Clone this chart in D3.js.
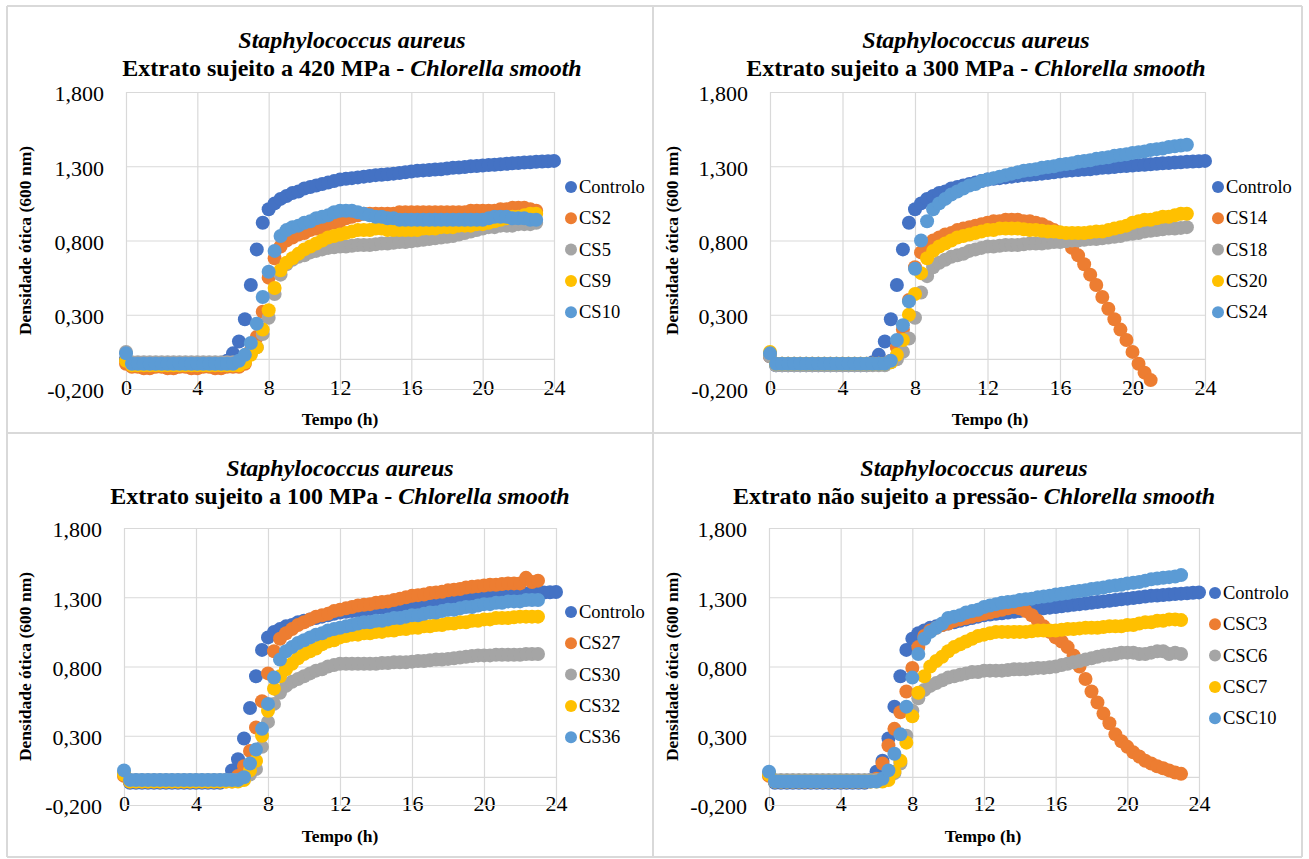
<!DOCTYPE html>
<meta charset="utf-8">
<style>
body { margin: 0; background: #fff; }
svg text { font-family: "Liberation Serif", "Times New Roman", serif; fill: #000; }
.grid line { stroke: #d9d9d9; stroke-width: 1.2; }
.grid path { display: none; }
.tick text { font-size: 22px; }
.axtitle { font-size: 17.5px; font-weight: bold; }
.title { font-size: 24px; font-weight: bold; }
.legend text { font-size: 18.5px; }
</style>
<body>
<svg width="1309" height="859"></svg>
<script src="https://d3js.org/d3.v7.min.js"></script>
<script>
// readings every 20 min (1/3 h)
var step = 1 / 3;
var xTicks = [0, 4, 8, 12, 16, 20, 24];
var yTicks = [-0.2, 0.3, 0.8, 1.3, 1.8];
var yTickLabels = ["-0,200", "0,300", "0,800", "1,300", "1,800"];
var colors = ["#4472C4", "#ED7D31", "#A5A5A5", "#FFC000", "#5B9BD5"];

var titleSpecies = "Staphylococcus aureus";
var titleAlga = "Chlorella smooth";
var subtitles = ["Extrato sujeito a 420 MPa - ", "Extrato sujeito a 300 MPa - ",
                 "Extrato sujeito a 100 MPa - ", "Extrato não sujeito a pressão- "];

var names420 = ["Controlo", "CS2", "CS5", "CS9", "CS10"];
var names300 = ["Controlo", "CS14", "CS18", "CS20", "CS24"];
var names100 = ["Controlo", "CS27", "CS30", "CS32", "CS36"];
var names0   = ["Controlo", "CSC3", "CSC6", "CSC7", "CSC10"];

// ---- 420 MPa
var ctl420 = [0.00,-0.03,-0.03,-0.03,-0.03,-0.03,-0.03,-0.03,-0.03,-0.03,-0.03,-0.03,-0.03,-0.03,-0.03,-0.03,-0.03,
  -0.01,0.04,0.12,0.27,0.50,0.74,0.92,1.01,
  1.05,1.08,1.10,1.12,1.13,1.15,1.16,1.17,1.18,1.19,1.20,1.21,
  1.215,1.22,1.225,1.23,1.235,1.24,1.243,1.246,1.25,1.255,1.26,1.265,
  1.27,1.272,1.275,1.278,1.28,1.285,1.29,1.292,1.295,1.30,1.302,1.305,
  1.308,1.31,1.313,1.316,1.32,1.322,1.325,1.327,1.33,1.332,1.334,1.336];
var cs2_420 = [-0.03,
  -0.05,-0.05,-0.06,-0.06,-0.05,-0.05,-0.06,-0.06,-0.05,-0.05,-0.06,-0.06,-0.05,-0.05,-0.06,-0.06,-0.05,-0.05,-0.05,
  -0.03,0.06,0.15,0.32,0.55,0.68,0.76,
  0.80,0.82,0.84,0.85,0.87,0.88,0.89,0.91,0.92,0.93,
  0.95,0.96,0.97,0.98,0.98,0.98,0.98,0.98,0.98,0.99,0.99,0.99,
  0.99,0.99,0.99,0.99,0.99,0.99,0.99,0.99,0.99,1.00,1.00,1.00,
  1.00,1.00,1.01,1.01,1.02,1.02,1.02,1.01,1.00];
var cs5_420 = [0.05,
  -0.02,-0.02,-0.02,-0.02,-0.02,-0.02,-0.02,-0.02,-0.02,-0.02,-0.02,-0.02,-0.02,-0.02,-0.02,-0.02,-0.02,-0.02,-0.02,
  0.00,0.04,0.08,0.17,0.28,0.44,0.57,
  0.64,0.67,0.69,0.70,0.72,0.73,0.74,0.75,0.755,0.76,
  0.76,0.765,0.77,0.77,0.77,0.775,0.78,0.78,0.785,0.79,0.79,0.795,
  0.80,0.805,0.81,0.815,0.82,0.825,0.83,0.84,0.85,0.86,0.87,0.88,
  0.89,0.89,0.90,0.90,0.90,0.91,0.91,0.91,0.92];
var cs9_420 = [-0.01,
  -0.04,-0.04,-0.04,-0.04,-0.04,-0.04,-0.04,-0.04,-0.04,-0.04,-0.04,-0.04,-0.04,-0.04,-0.04,-0.04,-0.04,-0.04,-0.04,
  -0.02,0.03,0.08,0.20,0.33,0.48,0.60,
  0.65,0.68,0.71,0.74,0.76,0.78,0.80,0.82,0.83,0.84,
  0.85,0.86,0.87,0.87,0.87,0.88,0.88,0.87,0.87,0.87,0.87,0.87,
  0.87,0.88,0.88,0.88,0.89,0.89,0.89,0.90,0.90,0.90,0.91,0.91,
  0.92,0.93,0.94,0.95,0.96,0.96,0.97,0.98,0.98];
var cs10_420 = [0.04,
  -0.03,-0.03,-0.03,-0.03,-0.03,-0.03,-0.03,-0.03,-0.03,-0.03,-0.03,-0.03,-0.03,-0.03,-0.03,-0.03,-0.03,-0.03,
  -0.01,0.03,0.11,0.24,0.42,0.59,0.73,0.83,
  0.87,0.89,0.90,0.92,0.93,0.95,0.96,0.97,0.99,1.00,
  1.00,1.00,0.99,0.98,0.97,0.96,0.96,0.95,0.95,0.94,0.94,0.94,
  0.94,0.94,0.94,0.94,0.94,0.94,0.94,0.94,0.94,0.94,0.94,0.94,
  0.95,0.96,0.96,0.96,0.95,0.95,0.95,0.94,0.94];

// ---- 300 MPa
var ctl300 = [0.02,-0.04,-0.04,-0.04,-0.04,-0.04,-0.04,-0.04,-0.04,-0.04,-0.04,-0.04,-0.04,-0.04,-0.04,-0.04,-0.04,
  -0.02,0.03,0.12,0.27,0.50,0.74,0.92,1.01,
  1.05,1.08,1.10,1.12,1.13,1.15,1.16,1.17,1.18,1.19,1.20,1.21,
  1.215,1.22,1.225,1.23,1.235,1.24,1.243,1.246,1.25,1.255,1.26,1.265,
  1.27,1.272,1.275,1.278,1.28,1.285,1.29,1.292,1.295,1.30,1.302,1.305,
  1.308,1.31,1.313,1.316,1.32,1.322,1.325,1.327,1.33,1.332,1.334,1.336];
var cs14_300 = [0.02,
  -0.03,-0.03,-0.03,-0.03,-0.03,-0.03,-0.03,-0.03,-0.03,-0.03,-0.03,-0.03,-0.03,-0.03,-0.03,-0.03,-0.03,-0.03,-0.03,
  -0.01,0.08,0.20,0.40,0.62,0.72,0.77,
  0.80,0.82,0.84,0.85,0.87,0.88,0.89,0.90,0.91,0.92,
  0.93,0.93,0.94,0.94,0.94,0.93,0.93,0.92,0.91,
  0.89,0.87,0.84,0.80,0.75,0.70,0.64,0.57,0.50,0.42,0.34,0.27,0.20,0.13,0.05,-0.03,-0.09,-0.14];
var cs18_300 = [0.02,
  -0.04,-0.04,-0.04,-0.04,-0.04,-0.04,-0.04,-0.04,-0.04,-0.04,-0.04,-0.04,-0.04,-0.04,-0.04,-0.04,-0.04,-0.04,-0.04,
  -0.02,0.00,0.05,0.14,0.28,0.45,0.56,
  0.62,0.65,0.67,0.69,0.70,0.71,0.73,0.74,0.75,0.76,
  0.76,0.765,0.77,0.77,0.77,0.775,0.78,0.78,0.78,0.785,0.79,0.79,
  0.795,0.80,0.80,0.805,0.81,0.81,0.815,0.82,0.825,0.83,0.84,0.845,
  0.85,0.86,0.865,0.87,0.875,0.88,0.88,0.885,0.89];
var cs20_300 = [0.05,
  -0.03,-0.03,-0.03,-0.03,-0.03,-0.03,-0.03,-0.03,-0.03,-0.03,-0.03,-0.03,-0.03,-0.03,-0.03,-0.03,-0.03,-0.03,-0.03,
  -0.02,0.03,0.13,0.30,0.44,0.58,0.68,
  0.73,0.76,0.78,0.80,0.82,0.83,0.84,0.85,0.86,0.87,
  0.87,0.88,0.88,0.88,0.88,0.875,0.87,0.87,0.865,0.86,0.86,0.855,
  0.85,0.85,0.85,0.85,0.855,0.86,0.86,0.87,0.88,0.89,0.90,0.92,
  0.93,0.94,0.94,0.95,0.96,0.96,0.97,0.98,0.98];
var cs24_300 = [0.04,
  -0.03,-0.03,-0.03,-0.03,-0.03,-0.03,-0.03,-0.03,-0.03,-0.03,-0.03,-0.03,-0.03,-0.03,-0.03,-0.03,-0.03,-0.03,-0.03,
  -0.01,0.13,0.23,0.39,0.61,0.80,0.93,1.01,
  1.05,1.08,1.11,1.13,1.15,1.17,1.18,1.20,1.21,
  1.22,1.23,1.24,1.25,1.26,1.27,1.275,1.28,1.29,1.295,1.30,1.31,
  1.315,1.32,1.33,1.335,1.34,1.35,1.355,1.36,1.37,1.375,1.38,1.39,
  1.395,1.40,1.41,1.415,1.42,1.43,1.435,1.44,1.445];

// ---- 100 MPa
var ctl100 = [0.02,-0.04,-0.04,-0.04,-0.04,-0.04,-0.04,-0.04,-0.04,-0.04,-0.04,-0.04,-0.04,-0.04,-0.04,-0.04,-0.04,
  -0.02,0.05,0.13,0.28,0.50,0.73,0.92,1.01,
  1.05,1.07,1.09,1.10,1.12,1.13,1.14,1.15,1.16,1.17,1.18,1.19,
  1.195,1.20,1.205,1.21,1.215,1.22,1.225,1.23,1.235,1.24,1.245,1.25,
  1.255,1.26,1.265,1.27,1.275,1.28,1.285,1.29,1.295,1.30,1.303,1.306,
  1.31,1.313,1.316,1.32,1.322,1.325,1.327,1.33,1.332,1.334,1.336,1.338];
var cs27_100 = [0.01,
  -0.03,-0.03,-0.03,-0.03,-0.03,-0.03,-0.03,-0.03,-0.03,-0.03,-0.03,-0.03,-0.03,-0.03,-0.03,-0.03,-0.03,-0.03,
  0.01,0.08,0.19,0.36,0.55,0.75,0.91,1.00,1.04,
  1.07,1.10,1.12,1.14,1.16,1.17,1.18,1.20,1.21,
  1.22,1.23,1.24,1.245,1.25,1.26,1.265,1.27,1.28,1.29,1.30,1.31,
  1.315,1.32,1.33,1.335,1.34,1.35,1.355,1.36,1.37,1.375,1.38,1.385,
  1.39,1.39,1.395,1.40,1.40,1.40,1.44,1.41,1.42];
var cs30_100 = [0.03,
  -0.02,-0.02,-0.02,-0.02,-0.02,-0.02,-0.02,-0.02,-0.02,-0.02,-0.02,-0.02,-0.02,-0.02,-0.02,-0.02,-0.02,-0.02,-0.02,
  -0.01,0.02,0.06,0.22,0.40,0.53,0.61,0.66,
  0.69,0.71,0.73,0.75,0.77,0.78,0.80,0.81,0.82,
  0.82,0.82,0.82,0.82,0.82,0.82,0.825,0.825,0.83,0.83,0.83,0.835,
  0.84,0.84,0.845,0.85,0.85,0.855,0.86,0.865,0.87,0.875,0.88,0.88,
  0.88,0.885,0.885,0.885,0.885,0.885,0.89,0.89,0.89];
var cs32_100 = [0.02,
  -0.03,-0.03,-0.03,-0.03,-0.03,-0.03,-0.03,-0.03,-0.03,-0.03,-0.03,-0.03,-0.03,-0.03,-0.03,-0.03,-0.03,-0.03,-0.03,
  -0.02,0.05,0.12,0.30,0.48,0.64,0.73,0.78,
  0.82,0.86,0.89,0.91,0.93,0.96,0.98,0.99,1.01,
  1.02,1.03,1.03,1.04,1.04,1.05,1.05,1.06,1.06,1.07,1.07,1.08,
  1.08,1.09,1.09,1.10,1.10,1.11,1.11,1.12,1.12,1.13,1.13,1.14,
  1.14,1.15,1.15,1.15,1.155,1.16,1.16,1.16,1.16];
var cs36_100 = [0.05,
  -0.02,-0.02,-0.02,-0.02,-0.02,-0.02,-0.02,-0.02,-0.02,-0.02,-0.02,-0.02,-0.02,-0.02,-0.02,-0.02,-0.02,-0.02,-0.02,
  0.00,0.10,0.20,0.35,0.53,0.72,0.85,0.91,
  0.94,0.97,0.99,1.01,1.03,1.04,1.06,1.07,1.08,
  1.09,1.10,1.11,1.12,1.12,1.13,1.13,1.14,1.15,1.15,1.16,1.17,
  1.17,1.18,1.19,1.19,1.20,1.21,1.21,1.22,1.23,1.23,1.24,1.25,
  1.25,1.26,1.26,1.27,1.27,1.27,1.28,1.28,1.28];

// ---- sem pressão
var ctl0 = [0.02,-0.04,-0.04,-0.04,-0.04,-0.04,-0.04,-0.04,-0.04,-0.04,-0.04,-0.04,-0.04,-0.04,-0.04,-0.04,-0.04,
  -0.02,0.04,0.12,0.28,0.51,0.73,0.92,1.00,
  1.04,1.06,1.08,1.09,1.10,1.11,1.12,1.13,1.14,1.15,1.16,1.17,
  1.175,1.18,1.185,1.19,1.195,1.20,1.205,1.21,1.215,1.22,1.225,1.23,
  1.235,1.24,1.245,1.25,1.255,1.26,1.265,1.27,1.275,1.28,1.285,1.29,
  1.295,1.30,1.305,1.31,1.313,1.316,1.32,1.323,1.326,1.329,1.332,1.335];
var csc3_0 = [0.01,
  -0.03,-0.03,-0.03,-0.03,-0.03,-0.03,-0.03,-0.03,-0.03,-0.03,-0.03,-0.03,-0.03,-0.03,-0.03,-0.03,-0.03,
  -0.01,0.10,0.23,
  0.35,0.47,0.62,0.79,0.94,1.02,1.06,
  1.08,1.10,1.11,1.13,1.14,1.15,1.16,1.17,1.18,
  1.19,1.20,1.21,1.22,1.23,1.22,1.20,1.17,1.13,1.09,1.05,1.01,
  0.98,0.94,0.88,0.80,0.71,0.62,0.54,0.46,0.39,0.31,0.26,0.22,
  0.18,0.15,0.12,0.10,0.08,0.065,0.05,0.035,0.025];
var csc6_0 = [0.03,
  -0.02,-0.02,-0.02,-0.02,-0.02,-0.02,-0.02,-0.02,-0.02,-0.02,-0.02,-0.02,-0.02,-0.02,-0.02,-0.02,-0.02,-0.02,-0.02,
  0.00,0.03,0.10,0.30,0.48,0.57,0.63,0.66,
  0.68,0.70,0.72,0.73,0.74,0.75,0.76,0.76,0.77,
  0.77,0.77,0.77,0.775,0.78,0.78,0.78,0.785,0.79,0.79,0.795,0.80,
  0.81,0.82,0.83,0.84,0.85,0.86,0.87,0.88,0.885,0.89,0.90,0.90,
  0.90,0.89,0.89,0.90,0.91,0.91,0.89,0.90,0.89];
var csc7_0 = [0.02,
  -0.03,-0.03,-0.03,-0.03,-0.03,-0.03,-0.03,-0.03,-0.03,-0.03,-0.03,-0.03,-0.03,-0.03,-0.03,-0.03,-0.03,-0.03,-0.03,
  -0.02,0.04,0.12,0.25,0.44,0.61,0.73,0.80,
  0.84,0.87,0.91,0.94,0.96,0.98,1.00,1.02,1.03,
  1.04,1.05,1.05,1.05,1.05,1.05,1.05,1.055,1.06,1.06,1.06,1.06,
  1.065,1.07,1.07,1.075,1.08,1.08,1.08,1.085,1.09,1.09,1.09,1.10,
  1.10,1.11,1.12,1.12,1.13,1.13,1.14,1.14,1.135];
var csc10_0 = [0.04,
  -0.03,-0.03,-0.03,-0.03,-0.03,-0.03,-0.03,-0.03,-0.03,-0.03,-0.03,-0.03,-0.03,-0.03,-0.03,-0.03,-0.03,-0.03,
  -0.01,0.05,0.17,0.31,0.51,0.72,0.89,1.00,1.05,
  1.08,1.11,1.15,1.16,1.17,1.19,1.20,1.21,1.23,
  1.24,1.25,1.26,1.265,1.27,1.28,1.285,1.29,1.30,1.305,1.31,1.32,
  1.325,1.33,1.34,1.345,1.35,1.36,1.365,1.37,1.38,1.385,1.39,1.40,
  1.405,1.41,1.42,1.43,1.435,1.44,1.445,1.45,1.46];

var panels = [
  {sub: subtitles[0], names: names420, series: [ctl420, cs2_420, cs5_420, cs9_420, cs10_420],
   left: 126, right: 554, top: 92, bottom: 389, tx: 352, ty: 48, ytx: 25, xtx: 340, xty: 425, lx: 571, ly: 187},
  {sub: subtitles[1], names: names300, series: [ctl300, cs14_300, cs18_300, cs20_300, cs24_300],
   left: 770, right: 1205, top: 92, bottom: 389, tx: 976, ty: 48, ytx: 672, xtx: 990, xty: 425, lx: 1218, ly: 187},
  {sub: subtitles[2], names: names100, series: [ctl100, cs27_100, cs30_100, cs32_100, cs36_100],
   left: 124, right: 556, top: 528, bottom: 805, tx: 340, ty: 476, ytx: 25, xtx: 340, xty: 842, lx: 571, ly: 612},
  {sub: subtitles[3], names: names0, series: [ctl0, csc3_0, csc6_0, csc7_0, csc10_0],
   left: 769, right: 1199, top: 528, bottom: 805, tx: 974, ty: 476, ytx: 672, xtx: 983, xty: 842, lx: 1215, ly: 593}
];

var svg = d3.select("svg");

// table cell borders
var bx = [7, 653, 1302], by = [6, 433, 857];
bx.forEach(function(x) {
  svg.append("line").attr("x1", x).attr("x2", x).attr("y1", by[0]).attr("y2", by[2])
    .attr("stroke", "#d9d9d9").attr("stroke-width", 2);
});
by.forEach(function(y) {
  svg.append("line").attr("x1", bx[0]).attr("x2", bx[2]).attr("y1", y).attr("y2", y)
    .attr("stroke", "#d9d9d9").attr("stroke-width", 2);
});

panels.forEach(function(p) {
  var x = d3.scaleLinear().domain([0, 24]).range([p.left, p.right]),
      y = d3.scaleLinear().domain([-0.2, 1.8]).range([p.bottom, p.top]);
  var g = svg.append("g");

  // titles
  var t = g.append("text").attr("class", "title").attr("text-anchor", "middle")
    .attr("x", p.tx).attr("y", p.ty);
  t.append("tspan").attr("font-style", "italic").text(titleSpecies);
  var t2 = g.append("text").attr("class", "title").attr("text-anchor", "middle")
    .attr("x", p.tx).attr("y", p.ty + 28);
  t2.append("tspan").text(p.sub);
  t2.append("tspan").attr("font-style", "italic").text(titleAlga);

  g.append("g").attr("class", "grid")
      .attr("transform", "translate(0," + p.bottom + ")")
      .call(d3.axisBottom(x).tickValues(xTicks).tickSize(-(p.bottom - p.top)).tickPadding(6))
    .selectAll("text").attr("y", 6).attr("dy", 0);

  g.append("g").attr("class", "grid")
      .attr("transform", "translate(" + p.left + ",0)")
      .call(d3.axisLeft(y).tickValues(yTicks).tickSize(-(p.right - p.left)).tickPadding(22)
        .tickFormat(function(d, i) { return yTickLabels[i]; }))
    .selectAll("text").attr("dy", "0.4em");

  // horizontal axis crosses at 0
  g.append("line").attr("x1", p.left).attr("x2", p.right)
    .attr("y1", y(0)).attr("y2", y(0)).attr("stroke", "#d9d9d9").attr("stroke-width", 1.2);

  g.append("text").attr("class", "axtitle").attr("text-anchor", "middle")
    .attr("transform", "translate(" + (p.ytx + 6) + "," + ((p.top + p.bottom) / 2) + ") rotate(-90)")
    .text("Densidade ótica (600 nm)");
  g.append("text").attr("class", "axtitle").attr("text-anchor", "middle")
    .attr("x", p.xtx).attr("y", p.xty).text("Tempo (h)");

  p.series.forEach(function(vals, k) {
    g.append("g").selectAll("circle")
      .data(vals)
      .enter().append("circle")
        .attr("cx", function(d, i) { return x(i * step); })
        .attr("cy", function(d) { return y(d); })
        .attr("r", 7)
        .attr("fill", colors[k]);
  });

  var lg = g.append("g").attr("class", "legend");
  p.names.forEach(function(n, k) {
    lg.append("circle").attr("cx", p.lx).attr("cy", p.ly + k * 31.3).attr("r", 6).attr("fill", colors[k]);
    lg.append("text").attr("x", p.lx + 8).attr("y", p.ly + k * 31.3 + 6).text(n);
  });
});
</script>
</body>
